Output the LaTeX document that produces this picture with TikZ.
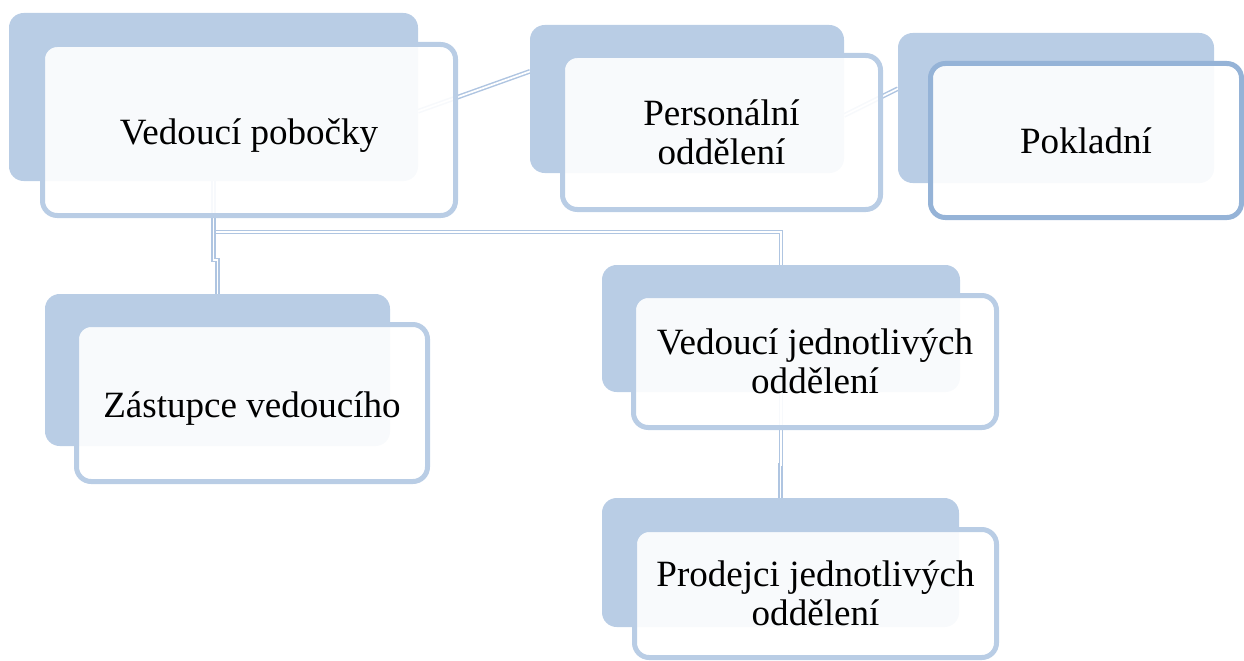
\documentclass[tikz,border=0pt]{standalone}
\usepackage{fontspec}
\setmainfont{Liberation Serif}
\usepackage{tikz}
\usetikzlibrary{backgrounds}
\definecolor{backblue}{HTML}{B9CDE5}
\definecolor{frameblue}{HTML}{B9CDE5}
\definecolor{selblue}{HTML}{95B3D7}
\definecolor{linkblue}{HTML}{AFC5E1}

\begin{document}
\begin{tikzpicture}[x=0.75pt, y=-0.75pt,
    backcard/.style={rectangle, rounded corners=11pt, fill=backblue, draw=none, outer sep=0pt},
    card/.style={rectangle, rounded corners=11pt, draw=frameblue, line width=3.75pt, fill=white, fill opacity=0.9, text opacity=1, outer sep=0pt, align=center, text=black, font=\fontsize{27.8}{29.5}\selectfont},
    selcard/.style={card, draw=selblue},
    lowtext/.style={text height=28pt, text depth=6pt},
    conn/.style={draw=linkblue, line width=1.1pt, double=white, double distance=1.3pt}
]
    \useasboundingbox (0,0) rectangle (1244,660);

    % back cards
    \node[backcard, minimum width=306.75pt, minimum height=126pt] (vedb) at (213.5, 97) {};
    \node[backcard, minimum width=235.5pt, minimum height=111pt] (perb) at (687, 99) {};
    \node[backcard, minimum width=237pt, minimum height=112.5pt] (pokb) at (1056, 108) {};
    \node[backcard, minimum width=258.75pt, minimum height=114pt] (zasb) at (217.5, 370) {};
    \node[backcard, minimum width=268.5pt, minimum height=95.25pt] (vjob) at (781, 328.5) {};
    \node[backcard, minimum width=267.75pt, minimum height=96.75pt] (pjob) at (780.5, 562.5) {};

    % front cards
    \node[card, lowtext, minimum width=309.75pt, minimum height=128.25pt] (ved) at (249, 130) {Vedoucí pobočky};
    \node[card, minimum width=238.5pt, minimum height=115.5pt] (per) at (721.5, 132.5) {Personální\\oddělení};
    \node[selcard, minimum width=233.25pt, minimum height=115.5pt] (pok) at (1086, 140.5) {Pokladní};
    \node[card, lowtext, minimum width=263.25pt, minimum height=117.75pt] (zas) at (252, 403) {Zástupce vedoucího};
    \node[card, minimum width=272.25pt, minimum height=99pt] (vjo) at (815, 361.5) {Vedoucí jednotlivých\\oddělení};
    \node[card, minimum width=271.5pt, minimum height=96pt] (pjo) at (815.5, 593.5) {Prodejci jednotlivých\\oddělení};

    % connectors
    \begin{pgfonlayer}{background}
        \draw[conn] (vedb.-4.75) -- (perb.170);
        \draw[conn] (perb.-6.2) -- (pokb.173.3);
        \draw[conn] (vedb.south) -- ++(0, 51) -| (vjob.north);
        \draw[conn] (vedb.south) -- ++(0, 79) -| (zasb.north);
        \draw[conn] (vjob.south) -- ++(0, 73) -| (pjob.north);
    \end{pgfonlayer}
\end{tikzpicture}
\end{document}
